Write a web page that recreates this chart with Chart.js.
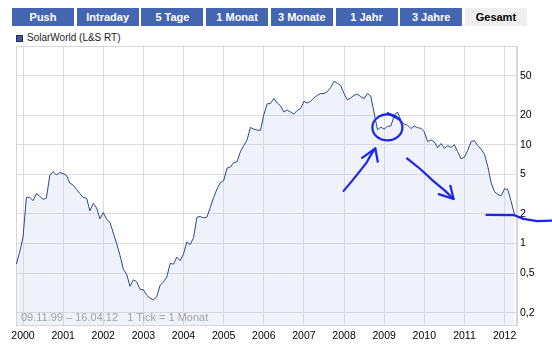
<!DOCTYPE html>
<html>
<head>
<meta charset="utf-8">
<script src="https://cdn.jsdelivr.net/npm/chart.js@4/dist/chart.umd.min.js"></script>
<style>
    body { margin: 0; width: 552px; height: 349px; background: #fff; position: relative; overflow: hidden; font-family: "Liberation Sans", Arial, sans-serif; }
    #chart { position: absolute; left: 0; top: 0; }
    .tab { position: absolute; top: 8px; height: 18px; line-height: 18px; width: 62px; text-align: center;
           background: #4466b0; color: #fff; font-weight: bold; font-size: 11px; }
    .tab.active { background: #efefef; color: #000; }
    #legend { position: absolute; left: 16px; top: 31px; font-size: 10px; color: #222; line-height: 14px; }
    #legend span { display: inline-block; width: 5px; height: 5px; border: 1px solid #1d2f5c; background: #3b5a9c; margin-right: 4px; vertical-align: -1px; }
    #range { position: absolute; left: 21px; top: 311px; font-size: 11px; color: #a3a3a3; white-space: pre; }
</style>
</head>
<body>
<div id="tabs"></div>
<div id="legend"><span></span>SolarWorld (L&amp;S RT)</div>
<canvas id="chart" width="552" height="349"></canvas>
<div id="range">09.11.99 – 16.04.12   1 Tick = 1 Monat</div>
<script>
// Zeitraum-Buttons
const tabLabels = ['Push', 'Intraday', '5 Tage', '1 Monat', '3 Monate', '1 Jahr', '3 Jahre', 'Gesamt'];

// Monatswerte ab Nov 1999 (1 Tick = 1 Monat)
const firstMonth = [1999, 11];
const prices = [
    0.62, 0.82,                                                             // 1999
    1.16, 2.93, 2.95, 2.72, 3.2, 3.02, 2.8, 2.89, 4.9, 5.35, 4.95, 5.25,    // 2000
    5.1, 4.9, 4.1, 3.9, 3.55, 3.2, 2.93, 2.89, 2.15, 2.55, 2.3, 1.78,       // 2001
    2.07, 1.76, 1.64, 1.28, 1.0, 0.76, 0.55, 0.49, 0.37, 0.43, 0.41, 0.345, // 2002
    0.34, 0.30, 0.28, 0.27, 0.29, 0.38, 0.41, 0.46, 0.63, 0.62, 0.73, 0.67, // 2003
    0.79, 1.04, 0.98, 1.15, 1.85, 1.88, 1.82, 1.85, 2.33, 2.93, 3.56, 4.15, // 2004
    4.35, 5.8, 5.96, 6.6, 6.74, 8.5, 9.8, 11.2, 15.0, 14.4, 14.1, 14.0,     // 2005
    20.1, 26, 26.2, 29.5, 26.5, 24.8, 21.5, 22.5, 21.4, 20.5, 22.3, 23.2,   // 2006
    27.5, 26.5, 27.6, 29.8, 31.7, 33, 33, 34.5, 38, 44, 42, 39.8,           // 2007
    33, 28.5, 29.8, 31.8, 32.5, 30.8, 29.3, 33, 31, 21, 14.2, 15.1,         // 2008
    14.4, 15.4, 15.5, 19.8, 21.5, 17.6, 16.2, 15.8, 14.6, 15.5, 14.9, 14.7, // 2009
    13.5, 10.8, 11.2, 10.7, 9.3, 10.3, 9.2, 9.8, 9.4, 10.0, 8.5, 7.2,       // 2010
    7.5, 8.8, 10.8, 11.0, 9.8, 9.0, 8.0, 6.0, 4.1, 3.35, 3.15, 3.05,        // 2011
    3.6, 3.5, 2.65, 1.95                                                    // 2012
];

const yearTicks = [2000, 2001, 2002, 2003, 2004, 2005, 2006, 2007, 2008, 2009, 2010, 2011, 2012];
const priceTicks = [0.2, 0.5, 1, 2, 5, 10, 20, 50];

// Handschriftliche Markierungen [Jahr, Kurs]
const arrowUp = [[2007.99, 3.42], [2008.20, 4.31], [2008.40, 5.44], [2008.57, 6.69], [2008.68, 8.05], [2008.78, 9.18]];
const arrowUpHead = [[2008.45, 7.39], [2008.78, 9.18], [2008.84, 6.74]];
const arrowDown = [[2009.57, 7.29], [2009.90, 5.69], [2010.22, 4.31], [2010.52, 3.42], [2010.73, 2.83]];
const arrowDownHead = [[2010.36, 3.17], [2010.73, 2.83], [2010.65, 3.85]];
const flatLine = [[2011.55, 1.95], [2012.23, 1.945], [2012.47, 1.78], [2012.81, 1.69], [2013.18, 1.71]];
const circleTail = [[2009.09, 20.9], [2009.40, 17.9]];
const circleCenter = [2009.08, 15.0];

// Buttons bauen
const tabs = document.getElementById('tabs');
tabLabels.forEach((label, i) => {
    const div = document.createElement('div');
    div.className = 'tab' + (i === tabLabels.length - 1 ? ' active' : '');
    div.style.left = (12 + i * 64.7) + 'px';
    div.textContent = label;
    tabs.appendChild(div);
});

const points = prices.map((p, i) => ({
    x: firstMonth[0] + (firstMonth[1] - 1) / 12 + i / 12,
    y: p
}));

const frame = {
    id: 'frame',
    beforeDatasetsDraw(chart) {
        const a = chart.chartArea;
        const ctx = chart.ctx;
        ctx.save();
        ctx.strokeStyle = '#d6d6d6';
        ctx.lineWidth = 1;
        ctx.strokeRect(Math.round(a.left) + 0.5, Math.round(a.top) + 0.5,
            Math.round(a.right - a.left) - 1, Math.round(a.bottom - a.top));
        ctx.restore();
    }
};

const scribbles = {
    id: 'scribbles',
    afterDatasetsDraw(chart) {
        const xs = chart.scales.x, ys = chart.scales.y;
        const ctx = chart.ctx;
        const px = p => [xs.getPixelForValue(p[0]), ys.getPixelForValue(p[1])];
        ctx.save();
        ctx.strokeStyle = '#1a24ee';
        ctx.lineWidth = 2.2;
        ctx.lineCap = 'round';
        ctx.lineJoin = 'round';
        [arrowUp, arrowUpHead, arrowDown, arrowDownHead, flatLine, circleTail].forEach(stroke => {
            ctx.beginPath();
            stroke.forEach((p, i) => {
                const [x, y] = px(p);
                if (i === 0) ctx.moveTo(x, y); else ctx.lineTo(x, y);
            });
            ctx.stroke();
        });
        const [cx, cy] = px(circleCenter);
        ctx.beginPath();
        ctx.ellipse(cx, cy, 15, 13, 0, 0, Math.PI * 2);
        ctx.stroke();
        ctx.restore();
    }
};

new Chart(document.getElementById('chart').getContext('2d'), {
    type: 'line',
    data: {
        datasets: [{
            label: 'SolarWorld (L&S RT)',
            data: points,
            borderColor: '#2c4888',
            borderWidth: 1,
            backgroundColor: 'rgba(190, 204, 238, 0.25)',
            fill: 'start',
            pointRadius: 0,
            tension: 0
        }]
    },
    options: {
        responsive: false,
        animation: false,
        layout: { padding: { top: 46, left: 16, right: 0, bottom: 0 } },
        plugins: { legend: { display: false }, tooltip: { enabled: false } },
        scales: {
            x: {
                type: 'linear',
                min: 1999.825,
                max: 2012.31,
                afterBuildTicks: scale => { scale.ticks = yearTicks.map(v => ({ value: v })); },
                afterFit: scale => { scale.height = 24; },
                grid: { color: '#dcdcdc', drawTicks: false },
                border: { color: '#d6d6d6' },
                ticks: {
                    padding: 5,
                    color: '#000',
                    font: { family: 'Liberation Sans', size: 10.5 },
                    maxRotation: 0,
                    callback: v => String(v)
                }
            },
            y: {
                type: 'logarithmic',
                position: 'right',
                min: 0.15,
                max: 100,
                afterBuildTicks: scale => { scale.ticks = priceTicks.map(v => ({ value: v })); },
                afterFit: scale => { scale.width = 35; },
                grid: { color: '#dcdcdc', drawTicks: false },
                border: { color: '#d6d6d6' },
                ticks: {
                    padding: 3,
                    color: '#000',
                    font: { family: 'Liberation Sans', size: 10.5 },
                    callback: v => String(v).replace('.', ',')
                }
            }
        }
    },
    plugins: [frame, scribbles]
});
</script>
</body>
</html>
